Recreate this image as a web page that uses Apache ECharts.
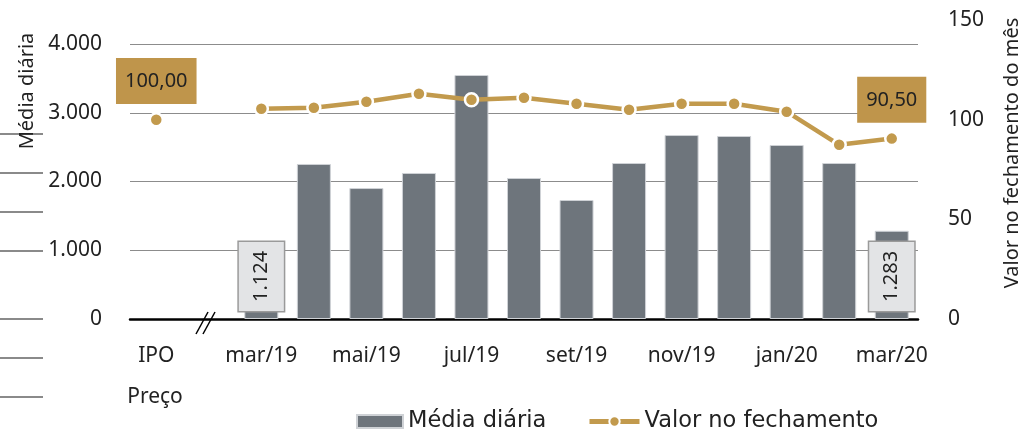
<!DOCTYPE html>
<html>
<head>
<meta charset="utf-8">
<script src="https://cdn.jsdelivr.net/npm/echarts@6/dist/echarts.min.js"></script>
<style>
  html, body { margin: 0; padding: 0; background: #fff; }
  #main { width: 1023px; height: 431px; }
</style>
</head>
<body>
<div id="main"></div>
<script>
// eixo x: IPO, lacuna (quebra //), mar/19 ... mar/20
const categories = ["IPO", "", "mar/19", "abr/19", "mai/19", "jun/19", "jul/19", "ago/19", "set/19", "out/19", "nov/19", "dez/19", "jan/20", "fev/20", "mar/20"];
// média diária (barras)
const mediaDiaria = [null, null, 1124, 2255, 1905, 2124, 3549, 2051, 1731, 2269, 2676, 2662, 2531, 2269, 1283];
// valor no fechamento do mês (linha)
const valorFechamento = [100, null, 105.5, 106, 109, 113, 110, 111, 108, 105, 108, 108, 104, 87.4, 90.5];
const leftTicks = [0, 1000, 2000, 3000, 4000];
const rightTicks = [0, 50, 100, 150];
// barras/pontos com rótulo
const barLabelIdx = [2, 14];
const lineLabelIdx = [0, 14];

const FONT = "Noto Sans";
const GOLD = "#C29A4D";
const BAR = "#6E757C";

const fmtMil = v => String(v).replace(/\B(?=(\d{3})+(?!\d))/g, ".");
const fmtDec = v => v.toFixed(2).replace(".", ",");

let myChart = echarts.init(document.getElementById("main"));

const barData = mediaDiaria.map((v, i) => {
  if (barLabelIdx.indexOf(i) < 0) return v;
  return {
    value: v,
    label: {
      show: true,
      position: "insideBottom",
      distance: 8,
      rotate: 90,
      align: "left",
      verticalAlign: "middle",
      formatter: p => fmtMil(p.value),
      fontFamily: FONT,
      fontSize: 20,
      lineHeight: 22,
      color: "#222",
      backgroundColor: "#E3E4E6",
      borderColor: "#9a9a9a",
      borderWidth: 1.5,
      padding: [12, 9, 11, 9]
    }
  };
});

const lineData = valorFechamento.map((v, i) => {
  if (lineLabelIdx.indexOf(i) < 0) return v;
  return {
    value: v,
    label: {
      show: true,
      position: "top",
      distance: 8,
      formatter: p => fmtDec(p.value),
      fontFamily: FONT,
      fontSize: 20,
      lineHeight: 22,
      color: "#222",
      backgroundColor: "#BF954B",
      padding: [12, 9, 12, 9]
    }
  };
});

const leftDashes = [134, 173, 212, 251, 319, 358, 397].map(y => ({
  type: "line",
  shape: { x1: 0, y1: y, x2: 43, y2: y },
  style: { stroke: "#8a8a8a", lineWidth: 2 }
}));

const legendText = { fontFamily: "DejaVu Sans", fontSize: 22.5, color: "#222" };

const option = {
  backgroundColor: "#fff",
  animation: false,
  textStyle: { fontFamily: FONT },
  grid: [
    { left: 130, right: 105, top: 44, bottom: 112 },
    { left: 130, right: 105, top: 20, bottom: 112 }
  ],
  legend: [
    {
      left: 351,
      top: 405,
      itemWidth: 46,
      itemHeight: 13,
      textStyle: legendText,
      data: [{ name: "Média diária", icon: "rect" }]
    },
    {
      left: 582,
      top: 405,
      itemWidth: 50,
      itemHeight: 13,
      textStyle: legendText,
      lineStyle: { width: 5 },
      data: [{ name: "Valor no fechamento" }]
    }
  ],
  xAxis: [
    {
      type: "category",
      gridIndex: 0,
      data: categories,
      axisTick: { show: false },
      axisLine: { lineStyle: { color: "#000", width: 2.5 } },
      axisLabel: {
        interval: 1,
        margin: 27,
        fontFamily: FONT,
        fontSize: 21,
        color: "#222"
      }
    },
    {
      type: "category",
      gridIndex: 1,
      data: categories,
      show: false
    }
  ],
  yAxis: [
    {
      type: "value",
      gridIndex: 0,
      min: leftTicks[0],
      max: leftTicks[leftTicks.length - 1],
      interval: 1000,
      axisLine: { show: false },
      axisTick: { show: false },
      axisLabel: {
        margin: 28,
        fontFamily: FONT,
        fontSize: 21,
        color: "#222",
        formatter: v => fmtMil(v)
      },
      splitLine: { lineStyle: { color: "#8c8c8c", width: 1 } }
    },
    {
      type: "value",
      gridIndex: 1,
      position: "right",
      min: rightTicks[0],
      max: rightTicks[rightTicks.length - 1],
      interval: 50,
      axisLine: { show: false },
      axisTick: { show: false },
      splitLine: { show: false },
      axisLabel: {
        margin: 30,
        fontFamily: FONT,
        fontSize: 21,
        color: "#222"
      }
    }
  ],
  series: [
    {
      name: "Média diária",
      type: "bar",
      xAxisIndex: 0,
      yAxisIndex: 0,
      barWidth: 34,
      itemStyle: { color: BAR, borderColor: "#cfd2d6", borderWidth: 1 },
      data: barData
    },
    {
      name: "Valor no fechamento",
      type: "line",
      xAxisIndex: 1,
      yAxisIndex: 1,
      connectNulls: false,
      symbol: "circle",
      symbolSize: 13,
      lineStyle: { color: GOLD, width: 4.5 },
      itemStyle: { color: GOLD, borderColor: "#fff", borderWidth: 2.5 },
      z: 3,
      data: lineData
    }
  ],
  graphic: [
    ...leftDashes,
    {
      type: "text",
      x: 27,
      y: 91,
      rotation: Math.PI / 2,
      style: {
        text: "Média diária",
        font: "20px " + FONT,
        fill: "#222",
        textAlign: "center",
        textVerticalAlign: "middle"
      }
    },
    {
      type: "text",
      x: 1012,
      y: 153,
      rotation: Math.PI / 2,
      style: {
        text: "Valor no fechamento do mês",
        font: "20px " + FONT,
        fill: "#222",
        textAlign: "center",
        textVerticalAlign: "middle"
      }
    },
    {
      type: "text",
      x: 155,
      y: 397,
      style: {
        text: "Preço",
        font: "21px " + FONT,
        fill: "#222",
        textAlign: "center",
        textVerticalAlign: "middle"
      }
    },
    // quebra do eixo
    {
      type: "line",
      shape: { x1: 196, y1: 334, x2: 208, y2: 312 },
      style: { stroke: "#000", lineWidth: 1.5 },
      z: 10
    },
    {
      type: "line",
      shape: { x1: 203, y1: 334, x2: 215, y2: 312 },
      style: { stroke: "#000", lineWidth: 1.5 },
      z: 10
    }
  ]
};

option && myChart.setOption(option);
</script>
</body>
</html>
